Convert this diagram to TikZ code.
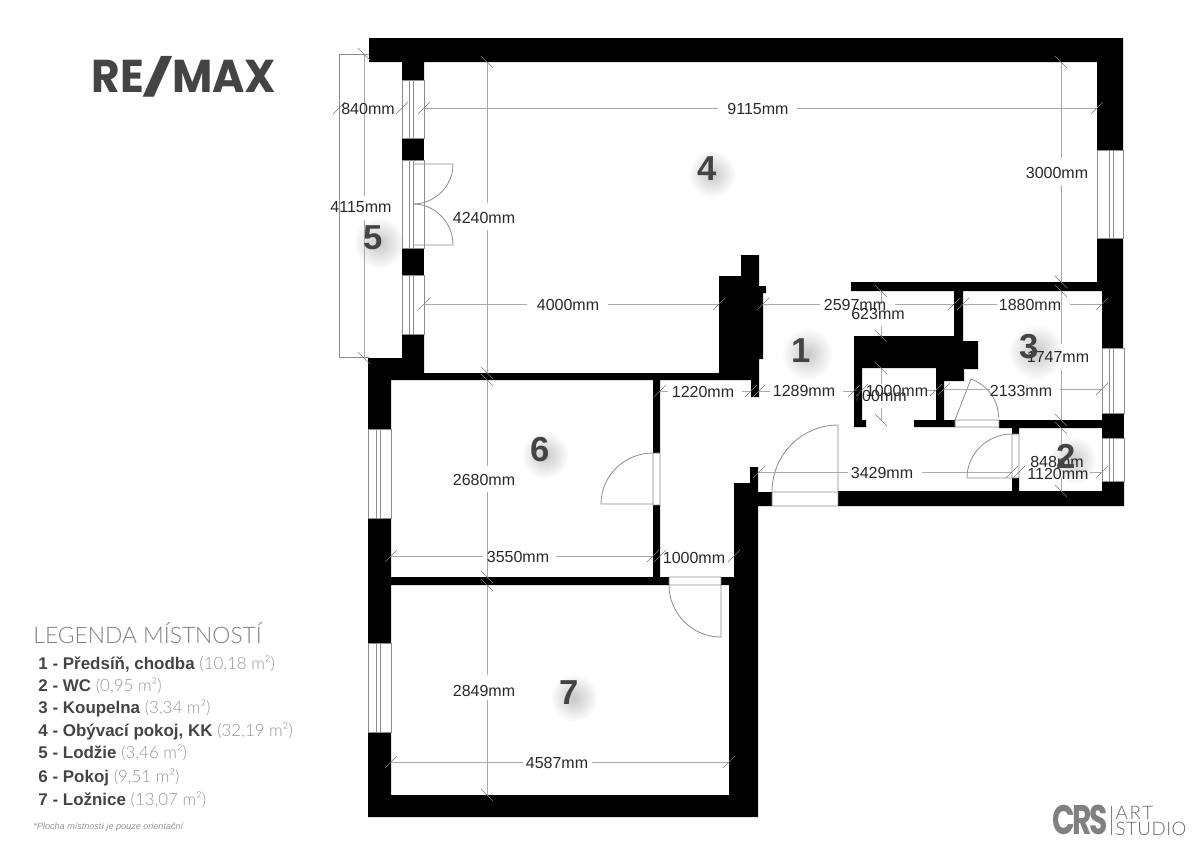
\documentclass[tikz,border=0pt]{standalone}
\usepackage{fontspec}
\setmainfont{Liberation Sans}
\newfontfamily\logofont{Poppins}
\newfontfamily\thinfont{Lato Light}

\definecolor{wallblack}{RGB}{0,0,0}
\definecolor{dimgray}{RGB}{170,170,170}
\definecolor{doorgray}{RGB}{140,140,140}
\definecolor{tickgray}{RGB}{125,125,125}
\definecolor{textdark}{RGB}{40,40,40}
\definecolor{roomdark}{RGB}{68,68,68}
\definecolor{areagray}{RGB}{150,150,150}

\tikzset{every picture/.style={line width=0.75pt}}
\tikzset{
  wall/.style={fill=wallblack,draw=none},
  glass/.style={draw=doorgray,line width=0.6pt},
  door/.style={draw=doorgray,line width=0.6pt},
  dimline/.style={draw=dimgray,line width=0.7pt},
  dimtick/.style={draw=tickgray,line width=0.5pt},
  dimtext/.style={inner sep=0pt,text=textdark,font=\fontsize{12pt}{13pt}\selectfont},
  roomnum/.style={inner sep=0pt,text=roomdark,font=\fontsize{26pt}{27pt}\selectfont\bfseries},
  roomglow/.style={inner color=black!22,outer color=white},
  legendrow/.style={anchor=west,inner sep=0pt,text=roomdark,font=\fontsize{12.7pt}{14pt}\selectfont\bfseries}
}
% y, x1, gap start, gap end, x2
\newcommand{\hdim}[5]{
  \draw [dimline] (#2,#1) -- (#3,#1) (#4,#1) -- (#5,#1);
  \draw [dimtick] (#2-6,#1+6) -- (#2+6,#1-6) (#5-6,#1+6) -- (#5+6,#1-6);
}
% x, y1, gap start, gap end, y2
\newcommand{\vdim}[5]{
  \draw [dimline] (#1,#2) -- (#1,#3) (#1,#4) -- (#1,#5);
  \draw [dimtick] (#1-6,#2-6) -- (#1+6,#2+6) (#1-6,#5-6) -- (#1+6,#5+6);
}
\newcommand{\areatext}[1]{{\thinfont\mdseries\color{areagray} (#1 m²)}}

\begin{document}
\begin{tikzpicture}[x=0.75pt,y=0.75pt,yscale=-1,xscale=1]
\useasboundingbox (0,0) rectangle (1200,847);

% Room glows
\shade [roomglow] (712,174) circle (24);
\shade [roomglow] (379,243) circle (26);
\shade [roomglow] (807,354) circle (26);
\shade [roomglow] (1036,352) circle (28);
\shade [roomglow] (1073,460) circle (24);
\shade [roomglow] (545,455) circle (24);
\shade [roomglow] (574,698) circle (24);

% Loggia outline
\draw [glass] (369,54) -- (339,54) -- (339,357) -- (369,357);

%Shape: Polygon, top and right wall
\fill [wall] (369,38) -- (1123,38) -- (1123,150) -- (1097,150) -- (1097,62) -- (424,62) -- (424,80) -- (402,80) -- (402,62) -- (369,62) -- cycle;
\fill [wall] (1097,238) -- (1123,238) -- (1123,348) -- (1102,348) -- (1102,291) -- (963,291) -- (963,336) -- (963,341) -- (978,341) -- (978,369) -- (964,369) -- (964,381) -- (944,381) -- (944,420) -- (955,420) -- (955,427) -- (914,427) -- (914,420) -- (936,420) -- (936,368) -- (862,368) -- (862,420) -- (866,420) -- (866,427) -- (854,427) -- (854,336) -- (954,336) -- (954,291) -- (851,291) -- (851,282) -- (1097,282) -- cycle;
%Shape: Polygon, window piers
\fill [wall] (402,138) rectangle (424,160);
\fill [wall] (402,248) rectangle (424,275);
\fill [wall] (1102,413) rectangle (1124,438);
%Shape: Polygon, left and bottom wall
\fill [wall] (402,334) -- (424,334) -- (424,373) -- (719,373) -- (719,276) -- (741,276) -- (741,255) -- (759,255) -- (759,286) -- (766,286) -- (766,293) -- (763,293) -- (763,359) -- (759,359) -- (759,397) -- (751,397) -- (751,380) -- (660,380) -- (660,453) -- (653,453) -- (653,380) -- (391,380) -- (391,429) -- (368,429) -- (368,358) -- (402,358) -- cycle;
\fill [wall] (368,518) -- (391,518) -- (391,577) -- (653,577) -- (653,505) -- (660,505) -- (660,577) -- (669,577) -- (669,585) -- (391,585) -- (391,643) -- (368,643) -- cycle;
\fill [wall] (721,577) -- (734,577) -- (734,483) -- (750,483) -- (750,467) -- (758,467) -- (758,492) -- (772,492) -- (772,506) -- (758,506) -- (758,817) -- (368,817) -- (368,732) -- (391,732) -- (391,795) -- (729,795) -- (729,585) -- (721,585) -- cycle;
\fill [wall] (838,491) -- (1012,491) -- (1012,478) -- (1019,478) -- (1019,491) -- (1102,491) -- (1102,481) -- (1124,481) -- (1124,506) -- (838,506) -- cycle;
\fill [wall] (999,420) -- (1102,420) -- (1102,428) -- (1019,428) -- (1019,434) -- (1012,434) -- (1012,428) -- (999,428) -- cycle;

%Shape: Rectangle, windows
\draw [glass] (402,80) rectangle (424,138) (409,80) -- (409,138) (413,80) -- (413,138);
\draw [glass] (402,160) rectangle (424,248) (409,160) -- (409,248) (413,160) -- (413,248);
\draw [glass] (402,275) rectangle (424,334) (409,275) -- (409,334) (413,275) -- (413,334);
\draw [glass] (368,429) rectangle (391,518) (376,429) -- (376,518) (380,429) -- (380,518);
\draw [glass] (368,643) rectangle (391,732) (376,643) -- (376,732) (380,643) -- (380,732);
\draw [glass] (1097,150) rectangle (1123,238) (1109,150) -- (1109,238) (1113,150) -- (1113,238);
\draw [glass] (1102,348) rectangle (1124,413) (1109,348) -- (1109,413) (1113,348) -- (1113,413);
\draw [glass] (1102,438) rectangle (1124,481) (1109,438) -- (1109,481) (1113,438) -- (1113,481);

%Shape: Arc, doors
\draw [door] (772,492) rectangle (838,506) (838,492) -- (838,425) arc (270:180:66 and 67);
\draw [door] (955,420) rectangle (999,427) (955,420) -- (971,379) arc (-68:0:44 and 41);
\draw [door] (1012,434) rectangle (1019,478) (1012,478) -- (967,478) arc (180:270:45 and 44);
\draw [door] (653,453) rectangle (660,505) (653,504) -- (601,504) arc (180:270:52 and 51);
\draw [door] (669,577) rectangle (721,585) (721,585) -- (721,637) arc (90:180:52);
\draw [door] (413,164) -- (453,164) arc (0:90:40);
\draw [door] (413,245) -- (453,245) arc (0:-90:40 and 41);

%Straight Lines, dimensions
\hdim{108}{339}{339}{402}{402}
\hdim{108}{424}{718}{797}{1097}
\hdim{304}{424}{527}{608}{719}
\hdim{304}{763}{820}{895}{954}
\hdim{304}{963}{997}{1070}{1102}
\hdim{391}{660}{668}{742}{751}
\hdim{391}{759}{770}{843}{854}
\hdim{390}{862}{862}{927}{936}
\hdim{389}{944}{990}{1060}{1102}
\hdim{472}{759}{848}{922}{1012}
\hdim{472}{1019}{1019}{1090}{1102}
\hdim{556}{391}{483}{556}{653}
\hdim{556}{660}{660}{734}{734}
\hdim{762}{391}{523}{592}{729}
\vdim{364}{54}{196}{220}{358}
\vdim{487}{62}{203}{230}{373}
\vdim{1061}{62}{158}{185}{282}
\vdim{881}{291}{304}{326}{336}
\vdim{1061}{291}{344}{370}{420}
\vdim{881}{368}{384}{408}{420}
\vdim{1061}{428}{452}{478}{491}
\vdim{487}{380}{466}{492}{577}
\vdim{487}{585}{675}{700}{795}

% Text Node
\node (d840) [dimtext] at (368,109) {840mm};
\node (d9115) [dimtext] at (758,109) {9115mm};
\node (d4115) [dimtext] at (361,207) {4115mm};
\node (d4240) [dimtext] at (484,218) {4240mm};
\node (d3000) [dimtext] at (1057,173) {3000mm};
\node (d4000) [dimtext] at (568,305) {4000mm};
\node (d2597) [dimtext] at (855,305) {2597mm};
\node (d623) [dimtext] at (878,314) {623mm};
\node (d1880) [dimtext] at (1030,305) {1880mm};
\node (d1747) [dimtext] at (1058,357) {1747mm};
\node (d1220) [dimtext] at (703,392) {1220mm};
\node (d1289) [dimtext] at (804,391) {1289mm};
\node (d1000a) [dimtext] at (897,391) {1000mm};
\node (d700) [dimtext] at (880,396) {700mm};
\node (d2133) [dimtext] at (1021,391) {2133mm};
\node (d3429) [dimtext] at (882,473) {3429mm};
\node (d848) [dimtext] at (1057,462) {848mm};
\node (d1120) [dimtext] at (1058,474) {1120mm};
\node (d2680) [dimtext] at (484,480) {2680mm};
\node (d3550) [dimtext] at (518,557) {3550mm};
\node (d1000b) [dimtext] at (694,558) {1000mm};
\node (d2849) [dimtext] at (484,691) {2849mm};
\node (d4587) [dimtext] at (557,763) {4587mm};

% Room numbers
\node (room1) [roomnum] at (801,351) {1};
\node (room2) [roomnum] at (1066,456) {2};
\node (room3) [roomnum] at (1029,347) {3};
\node (room4) [roomnum] at (707,169) {4};
\node (room5) [roomnum] at (373,238) {5};
\node (room6) [roomnum] at (540,450) {6};
\node (room7) [roomnum] at (569,693) {7};

% Legend
\node (legendtitle) [anchor=west,inner sep=0pt,text=areagray!85!black,font=\thinfont\fontsize{17.1pt}{19pt}\selectfont] at (33,633) {LEGENDA MÍSTNOSTÍ};
\node (row1) [legendrow] at (38,664) {1 - Předsíň, chodba \areatext{10,18}};
\node (row2) [legendrow] at (38,686) {2 - WC \areatext{0,95}};
\node (row3) [legendrow] at (38,708) {3 - Koupelna \areatext{3,34}};
\node (row4) [legendrow] at (38,731) {4 - Obývací pokoj, KK \areatext{32,19}};
\node (row5) [legendrow] at (38,753) {5 - Lodžie \areatext{3,46}};
\node (row6) [legendrow] at (38,777) {6 - Pokoj \areatext{9,51}};
\node (row7) [legendrow] at (38,800) {7 - Ložnice \areatext{13,07}};
\node (footnote) [anchor=west,inner sep=0pt,text=areagray,font=\fontsize{6.8pt}{8pt}\selectfont\itshape] at (33,827) {*Plocha místností je pouze orientační};

% Logos
\node (remax) [anchor=west,inner sep=0pt,text=roomdark,font=\logofont\bfseries\fontsize{34.5pt}{36pt}\selectfont] at (91,77) {\scalebox{0.955}[1]{RE\kern-1pt\raisebox{1.5pt}{\scalebox{1.55}[0.78]{/}}\kern-1pt MAX}};
\node (crs) [anchor=west,inner sep=0pt,text=black!50,font=\logofont\bfseries\fontsize{31pt}{32pt}\selectfont] at (1052,820) {\scalebox{0.72}[1]{C\kern-3pt R\kern-2pt S}};
\draw [draw=black!50,line width=0.7pt] (1111,806) -- (1111,835);
\node (art) [anchor=west,inner sep=0pt,text=black!60,font=\thinfont\fontsize{14pt}{15pt}\selectfont\addfontfeatures{LetterSpace=10}] at (1115,813) {ART};
\node (studio) [anchor=west,inner sep=0pt,text=black!60,font=\thinfont\fontsize{14pt}{15pt}\selectfont\addfontfeatures{LetterSpace=3}] at (1115,829) {STUDIO};

\end{tikzpicture}
\end{document}
